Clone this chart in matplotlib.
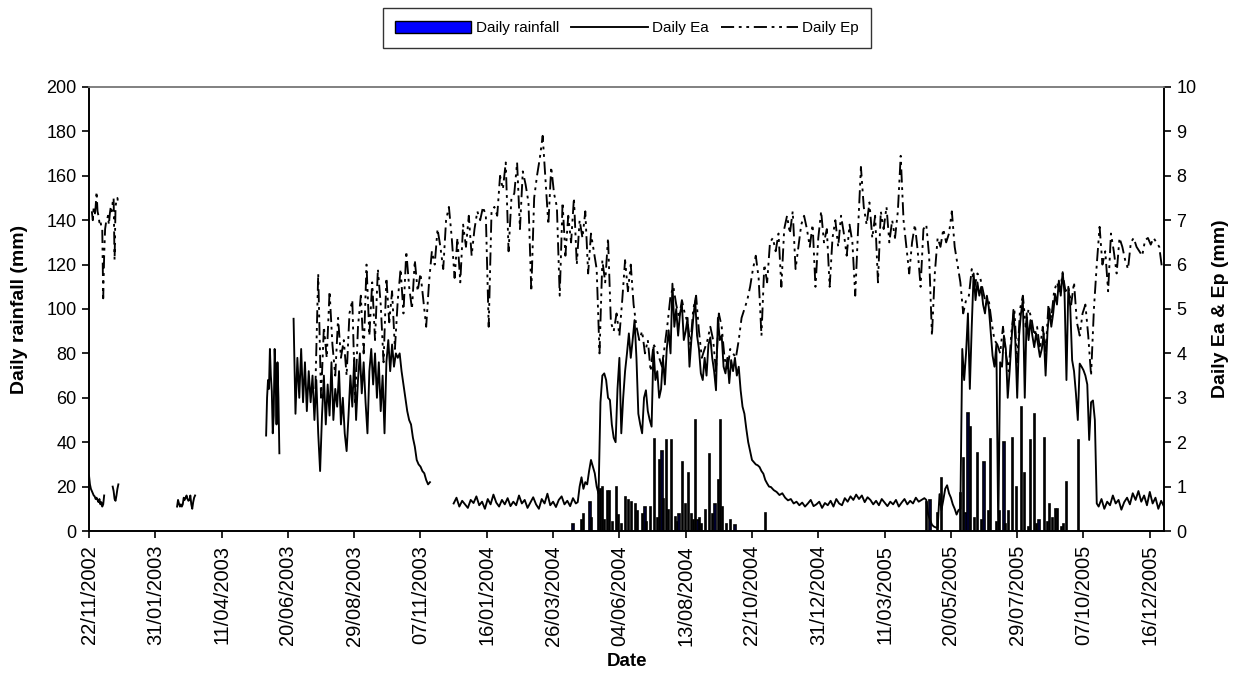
import matplotlib
matplotlib.use("Agg")
import numpy as np
import matplotlib.pyplot as plt
from matplotlib.patches import Patch
from matplotlib.lines import Line2D
import datetime as dt

plt.rcParams['font.family'] = ['Liberation Sans', 'DejaVu Sans']

# ---------------- data (day index counted from 22/11/2002) ----------------
base_date = dt.date(2002, 11, 22)
tick_labels = ['22/11/2002', '31/01/2003', '11/04/2003', '20/06/2003', '29/08/2003',
               '07/11/2003', '16/01/2004', '26/03/2004', '04/06/2004', '13/08/2004',
               '22/10/2004', '31/12/2004', '11/03/2005', '20/05/2005', '29/07/2005',
               '07/10/2005', '16/12/2005']

# Daily Ea (mm) segments: start day, step (days), values
ea1_start, ea1_step = 0, 1
ea1 = [1.25, 1.05, 0.95, 0.9, 0.85, 0.8, 0.78, 0.72, 0.75, 0.7, 0.65, 0.72, 0.6, 0.65, 0.55, 0.6, 0.8]
ea2_start, ea2_step = 25, 1
ea2 = [1.0, 0.9, 0.72, 0.68, 0.8, 0.95, 1.05]
ea3_start, ea3_step = 93, 1
ea3 = [0.55, 0.7, 0.62, 0.55, 0.6, 0.55, 0.6, 0.75, 0.7, 0.75, 0.8, 0.72, 0.68, 0.7, 0.8,
       0.6, 0.5, 0.65, 0.75, 0.8]
ea4_start, ea4_step = 187, 1
ea4 = [2.15, 3.0, 3.4, 3.2, 4.1, 3.5, 3.15, 2.2, 2.6, 4.1, 3.5, 2.4, 3.8, 3.0, 1.75]
ea5_start, ea5_step = 216, 2
ea5 = [4.78, 2.64, 3.9, 3.0, 4.1, 2.9, 3.8, 2.7, 3.6, 2.9,
       3.5, 2.5, 3.4, 2.2, 1.35, 2.6, 3.5, 2.4, 3.3, 2.6,
       3.8, 2.5, 3.2, 2.8, 3.6, 2.4, 3.0, 2.2, 1.8, 2.6,
       3.5, 2.8, 3.9, 2.5, 3.4, 4.0, 3.1, 3.8, 2.9, 2.2,
       3.6, 4.1, 3.3, 4.0, 3.0, 3.8, 2.7, 3.5, 2.2, 3.8,
       4.3, 3.6, 4.2, 3.7, 4.0, 3.9, 4.0, 3.6, 3.3, 3.0,
       2.7, 2.5, 2.4, 2.1, 1.9, 1.6, 1.5, 1.45, 1.35, 1.3,
       1.15, 1.05, 1.1]
ea6a_start, ea6a_step = 385, 3
ea6a = [0.62, 0.75, 0.55, 0.68, 0.6, 0.52, 0.7, 0.63, 0.78, 0.58,
        0.66, 0.5, 0.72, 0.6, 0.82, 0.64, 0.55, 0.7, 0.6, 0.74,
        0.56, 0.66, 0.58, 0.8, 0.62, 0.7, 0.52, 0.64, 0.76, 0.6,
        0.5, 0.72, 0.62, 0.84, 0.58, 0.66, 0.54, 0.7, 0.78, 0.6,
        0.68, 0.56, 0.74, 0.62]
ea6b_start, ea6b_step = 516, 2
ea6b = [0.65, 1.0, 1.21, 0.95, 1.1, 1.05, 1.35, 1.6, 1.45, 1.3,
        1.0, 0.84, 2.9, 3.5, 3.55, 3.4, 3.0, 2.95, 2.4, 2.1,
        2.0, 3.2, 3.9, 2.2, 3.0, 3.6, 4.0, 4.45, 3.9, 4.3,
        4.75, 3.9, 2.64, 2.4, 2.2, 3.0, 3.17, 2.7, 2.5, 2.35,
        4.14, 3.4, 3.6, 3.0, 3.2, 3.9, 3.3, 4.1, 4.52, 4.0,
        5.57, 4.6, 5.0, 4.4, 4.9, 5.1, 4.3, 4.5, 4.8, 3.7,
        4.3, 4.8, 5.2, 4.4, 4.1, 3.55, 3.4, 3.9, 3.5, 4.2,
        4.36, 3.9, 3.6, 3.17, 4.8, 4.3, 4.4, 3.7, 3.55, 3.9,
        3.33, 3.85, 3.6, 3.9, 3.5, 3.7, 3.17, 2.8, 2.64, 2.3,
        2.0, 1.8, 1.6, 1.55, 1.5, 1.48, 1.44, 1.35, 1.29, 1.15,
        1.07, 1.0, 0.99]
ea6c_start, ea6c_step = 723, 3
ea6c = [0.92, 0.88, 0.81, 0.85, 0.75, 0.69, 0.72, 0.62, 0.66, 0.58,
        0.64, 0.55, 0.62, 0.7, 0.56, 0.6, 0.66, 0.52, 0.63, 0.58,
        0.68, 0.55, 0.72, 0.62, 0.58, 0.74, 0.66, 0.78, 0.7, 0.82,
        0.72, 0.8, 0.65, 0.76, 0.7, 0.6, 0.68, 0.58, 0.72, 0.64,
        0.56, 0.66, 0.6, 0.7, 0.55, 0.64, 0.72, 0.6, 0.68, 0.62,
        0.75, 0.66, 0.7, 0.74]
ea6d_start, ea6d_step = 884, 2
ea6d = [0.7, 0.37, 0.25, 0.14, 0.1, 0.08, 0.07, 0.83, 0.47, 0.7,
        0.95, 1.03, 0.85, 0.75, 0.6, 0.5, 0.37, 0.47, 0.5, 4.1,
        3.4, 4.0, 4.9, 3.2, 4.6, 5.8, 5.2, 5.6, 5.3, 5.5,
        5.1, 4.9, 5.3, 5.04, 4.5, 3.95, 3.7, 4.2, 0.0, 3.8,
        3.7, 4.4, 4.1, 3.0, 3.6, 4.3, 4.98, 4.3, 3.0, 4.4,
        4.9, 5.2, 3.0, 4.9, 4.3, 4.75, 4.4, 4.14, 4.45, 4.2,
        3.92, 4.1, 4.45, 3.5, 4.5, 4.98, 4.6, 4.9, 5.34, 5.1,
        5.64, 5.3, 5.83, 5.34, 3.4, 5.5, 5.05, 3.85, 3.6, 3.1,
        2.5, 3.77, 3.7, 3.62, 3.5, 3.3, 2.05, 2.9, 2.94, 2.5,
        0.62]
ea6e_start, ea6e_step = 1066, 3
ea6e = [0.55, 0.72, 0.5, 0.66, 0.58, 0.8, 0.62, 0.7, 0.48, 0.65,
        0.75, 0.6, 0.85, 0.7, 0.9, 0.66, 0.8, 0.58, 0.88, 0.62,
        0.75, 0.5, 0.68, 0.55]

# Daily Ep (mm) segments
ep1_start, ep1_step = 3, 1
ep1 = [7.2, 7.0, 7.3, 7.1, 7.3, 7.64, 7.2, 7.1, 6.95, 7.0, 6.85, 6.8, 5.24, 6.2, 6.8,
       6.95, 7.0, 7.1, 6.9, 7.15, 7.3, 7.2, 7.4, 7.5, 6.1, 7.3, 7.45, 7.5, 7.35]
ep2_start, ep2_step = 239, 3
ep2 = [3.2, 5.8, 3.0, 4.6, 3.9, 5.4, 4.2, 3.5, 4.8, 3.9,
       4.3, 3.5, 4.9, 5.2, 2.9, 4.6, 5.3, 4.0, 6.0, 4.4,
       5.6, 4.3, 5.9, 5.1, 3.8, 5.7, 4.7, 5.4, 4.1, 5.2,
       5.9, 4.9, 6.3, 5.5, 5.0, 6.1, 5.4, 5.8, 5.2, 4.6,
       5.6, 6.3, 6.0, 6.8, 6.4, 5.9, 7.0, 7.3, 6.6, 5.7,
       6.6, 5.6, 6.9, 6.4, 7.1, 6.2, 6.8, 7.2, 7.0, 7.3,
       7.1, 4.6, 7.2, 7.3, 7.1, 8.0, 7.7, 8.3, 6.3, 7.5,
       7.6, 8.3, 6.8, 8.1, 7.8, 7.4, 5.4, 7.5, 8.0, 8.4,
       8.9, 7.9, 6.9, 8.2, 7.6, 7.3, 5.3, 7.4, 6.2, 7.1,
       6.5, 7.5, 6.0, 7.0, 6.6, 7.2, 5.8, 6.7, 6.3, 5.9,
       4.0, 6.1, 5.6, 6.6, 4.7, 4.5, 4.9, 4.4, 5.2, 6.1,
       5.4, 6.0, 5.1, 4.6, 4.3, 4.5, 4.0, 4.3, 3.6, 4.2,
       4.1, 3.9, 3.7, 4.2, 4.7, 5.3, 5.5, 5.1, 4.8, 5.2,
       4.9, 4.7, 4.2, 5.0, 5.3, 4.5, 3.9, 4.1, 4.3, 4.6,
       4.3, 3.6, 4.9, 4.6, 3.9, 3.6, 4.1, 4.0, 3.9, 4.3,
       4.8, 5.0, 5.2, 5.5, 5.9, 6.2, 5.7, 4.4, 6.0, 5.6,
       6.5, 6.6, 6.3, 6.7, 5.5, 6.8, 7.1, 6.7, 7.2, 5.9,
       6.4, 6.9, 7.1, 6.8, 6.4, 6.9, 5.5, 6.6, 7.2, 6.5,
       6.8, 5.5, 6.6, 7.0, 6.4, 7.1, 6.7, 6.2, 6.9, 6.5,
       5.3, 6.8, 8.2, 7.3, 6.9, 7.4, 6.6, 7.1, 5.6, 7.2,
       6.8, 7.3, 6.5, 7.0, 6.6, 7.2, 8.45, 7.0, 6.4, 5.8,
       6.5, 6.9, 6.3, 5.5, 6.8, 6.9, 6.2, 4.4, 5.8, 6.6,
       6.4, 6.8, 6.5, 6.7, 7.2, 6.4, 6.0, 5.6, 4.9, 5.2,
       5.3, 5.9, 5.5, 5.8, 5.7, 5.4, 5.1, 5.2, 4.7, 4.3,
       4.2, 4.0, 4.6, 4.0, 3.6, 4.5, 5.0, 3.8, 5.0, 5.3,
       4.6, 5.0, 4.8, 4.4, 4.6, 4.1, 4.6, 4.0, 5.1, 4.8,
       5.4, 5.6, 5.4, 5.8, 5.4, 5.5, 5.1, 5.6, 4.7, 4.4,
       4.9, 5.1, 4.4, 3.5, 5.0, 6.0, 6.85, 6.0, 6.3, 5.4,
       6.7, 6.3, 5.8, 6.6, 6.4, 6.1, 5.9, 6.5, 6.6, 6.4,
       6.3, 6.2, 6.55, 6.6, 6.45, 6.6, 6.5, 6.4, 5.9]

# Daily rainfall (mm): day index and depth
rain_day = [511, 520, 522, 529, 531, 538, 540, 542, 544, 547, 550, 553, 557, 559, 562,
            566, 570, 573, 577, 579, 584, 587, 589, 593, 597, 600, 602, 605, 607, 610,
            612, 615, 619, 621, 623, 627, 630, 633, 636, 638, 640, 643, 645, 647, 651,
            655, 658, 661, 665, 667, 669, 673, 677, 682, 714,
            884, 888, 896, 900, 920, 923, 926, 928, 931, 935, 938, 942, 945, 950, 952,
            958, 961, 966, 968, 971, 975, 979, 985, 988, 992, 994, 998, 1000, 1003, 1009,
            1012, 1014, 1017, 1020, 1023, 1027, 1029, 1032, 1045]
rain_mm = [3.3, 5.0, 7.8, 13, 6, 18, 19, 19.8, 5, 18, 18, 4, 19.8, 7, 3,
           15.3, 13.8, 13, 12, 9, 7.8, 10.8, 4, 10.8, 41.6, 6, 31.8, 36, 14.6, 40.8,
           9.3, 40.8, 6.3, 4, 7.8, 31, 12.3, 26, 7.8, 5, 50, 4.8, 6, 3.3, 9.3,
           34.8, 7.8, 12.3, 22.8, 50, 10.8, 3.3, 4.8, 2.5, 8.1,
           13, 14, 8, 24, 17, 33, 8, 53, 47, 6, 35, 5, 31, 9, 41.6,
           4, 9, 40, 3, 9, 42, 20, 56, 26, 2, 41, 52.7, 3, 4.8, 42,
           4, 12, 6, 10, 10, 2, 3, 22, 40.8]

# ---------------- figure ----------------
W, H = 1241, 675
fig = plt.figure(figsize=(W / 100, H / 100), dpi=100)
L, R, T, B = 89, 1164, 87, 531
ax1 = fig.add_axes([L / W, 1 - B / H, (R - L) / W, (B - T) / H])
ax2 = ax1.twinx()

ax1.bar(rain_day, rain_mm, width=1.2, color='#0000FF', edgecolor='black', linewidth=1.2, zorder=2)


def seg(start, step, vals):
    return np.arange(len(vals)) * step + start, np.array(vals)


LW = 1.35
ea_segments = [(ea1_start, ea1_step, ea1), (ea2_start, ea2_step, ea2), (ea3_start, ea3_step, ea3),
               (ea4_start, ea4_step, ea4), (ea5_start, ea5_step, ea5)]
for s, st, v in ea_segments:
    x, y = seg(s, st, v)
    ax2.plot(x, y, color='black', lw=LW)

# continuous segment from day 385 to the end
xs, ys = [], []
for s, st, v in [(ea6a_start, ea6a_step, ea6a), (ea6b_start, ea6b_step, ea6b),
                 (ea6c_start, ea6c_step, ea6c), (ea6d_start, ea6d_step, ea6d),
                 (ea6e_start, ea6e_step, ea6e)]:
    x, y = seg(s, st, v)
    xs.append(x)
    ys.append(y)
ax2.plot(np.concatenate(xs), np.concatenate(ys), color='black', lw=LW)

ep_dash = (7, 2.5, 1.5, 2.5, 1.5, 2.5)
for s, st, v in [(ep1_start, ep1_step, ep1), (ep2_start, ep2_step, ep2)]:
    x, y = seg(s, st, v)
    ax2.plot(x, y, color='black', lw=LW, dashes=ep_dash)

# axes styling
ax1.set_xlim(0, 1135)
ax1.set_ylim(0, 200)
ax2.set_ylim(0, 10)
ax1.set_yticks(np.arange(0, 201, 20))
ax2.set_yticks(np.arange(0, 11, 1))
tick_pos = [(dt.datetime.strptime(s, '%d/%m/%Y').date() - base_date).days for s in tick_labels]
ax1.set_xticks(tick_pos)
ax1.set_xticklabels(tick_labels, rotation=90, fontsize=14.5)
ax1.tick_params(axis='y', labelsize=13, length=5, width=1.2, direction='out', pad=4)
ax2.tick_params(axis='y', labelsize=13, length=5, width=1.2, direction='out', pad=4)
ax1.tick_params(axis='x', length=5, width=1.2, direction='out', pad=5)

for a in (ax1, ax2):
    for sp in a.spines.values():
        sp.set_linewidth(1.2)
        sp.set_color('black')
    a.spines['top'].set_color('#808080')

ax1.set_ylabel('Daily rainfall (mm)', fontsize=14, fontweight='bold')
ax2.set_ylabel('Daily Ea & Ep (mm)', fontsize=14, fontweight='bold')
ax1.yaxis.set_label_coords(-(L - 28) / (R - L), 0.5)
ax2.yaxis.set_label_coords(1 + (1212 - R) / (R - L), 0.5)
fig.text((L + R) / 2 / W, 1 - 662 / H, 'Date', ha='center', va='center',
         fontsize=13.5, fontweight='bold')

handles = [Patch(facecolor='#0000FF', edgecolor='black', linewidth=1.0),
           Line2D([], [], color='black', lw=LW),
           Line2D([], [], color='black', lw=LW, dashes=ep_dash)]
leg = fig.legend(handles, ['Daily rainfall', 'Daily Ea', 'Daily Ep'], ncol=3,
                 loc='center', bbox_to_anchor=(627 / W, 1 - 28 / H), fontsize=11,
                 frameon=True, fancybox=False, edgecolor='black', handlelength=5,
                 handleheight=0.9, handletextpad=0.3, columnspacing=0.8, borderpad=0.8)
leg.get_frame().set_linewidth(1.0)

fig.savefig('out.png', dpi=100)
